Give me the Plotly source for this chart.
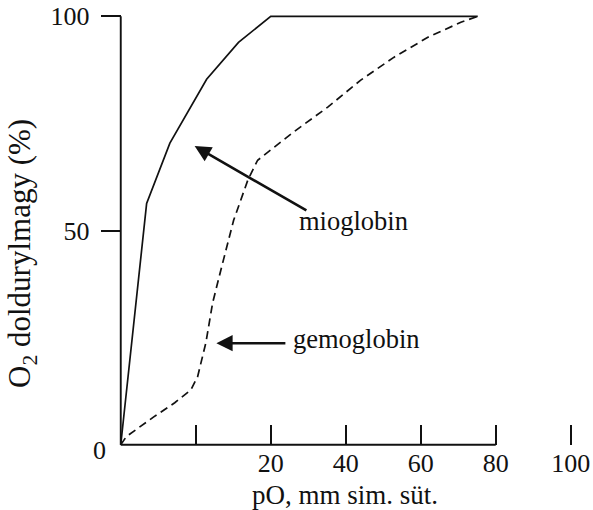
import plotly.graph_objects as go

# ---- data ----
mio_x = [-20, -13.1, -6.9, 2.9, 11.4, 20, 75.2]
mio_y = [0, 56.3, 70.4, 85.3, 93.9, 100, 100]

gem_x = [-20, -18.5, -11.2, -5.6, -1.3, 0.5, 2.7, 4.5, 6.7, 10.1, 13.9, 16.5, 20, 26.1, 35.2, 44, 52.8, 61.9, 70.7, 75.2]
gem_y = [0, 1.9, 6.5, 9.8, 12.8, 15.9, 23.8, 33.1, 40.8, 52.4, 61.8, 66.4, 68.8, 73.0, 78.8, 85.1, 90.4, 95.1, 98.6, 100]

x_tickvals = [0, 20, 40, 60, 80, 100]
x_ticktext = ["", "20", "40", "60", "80", "100"]
y_tickvals = [50, 100]
y_ticktext = ["50", "100"]

x_title = "pO, mm sim. süt."
y_title = "O<sub>2</sub> doldurylmagy (%)"
labels = ["mioglobin", "gemoglobin"]

# ---- layout geometry ----
W, H = 593, 510
ML, MR, MT, MB = 117, 0, 12, 61
XMIN = -21
XMAX = XMIN + (W - ML - MR) / 3.75
YMIN, YMAX = -1, 101
FONT = "Liberation Serif"
INK = "#111"

fig = go.Figure()
fig.add_trace(go.Scatter(x=mio_x, y=mio_y, mode="lines",
                         line=dict(color=INK, width=1.7), hoverinfo="skip"))
fig.add_trace(go.Scatter(x=gem_x, y=gem_y, mode="lines",
                         line=dict(color=INK, width=1.7, dash="8px,5px"), hoverinfo="skip"))

# axis lines
fig.add_shape(type="line", xref="x", yref="y", x0=-20, y0=0, x1=80, y1=0,
              line=dict(color=INK, width=1.9))
fig.add_shape(type="line", xref="x", yref="y", x0=-20, y0=0, x1=-20, y1=100,
              line=dict(color=INK, width=1.9))

def px_to_paper_x(px):
    return (px - ML) / (W - ML - MR)

def px_to_paper_y(py):
    return (H - MB - py) / (H - MT - MB)

ann = []
ann.append(dict(x=-20, y=0, xref="x", yref="y", text="0", showarrow=False,
                xshift=-21, yshift=-6, font=dict(family=FONT, size=26, color=INK)))
ann.append(dict(x=px_to_paper_x(345), y=px_to_paper_y(495), xref="paper", yref="paper",
                text=x_title, showarrow=False, xanchor="center", yanchor="middle",
                font=dict(family=FONT, size=27, color=INK)))
ann.append(dict(x=px_to_paper_x(22), y=px_to_paper_y(254), xref="paper", yref="paper",
                text=y_title, showarrow=False, textangle=-90, xanchor="center", yanchor="middle",
                font=dict(family=FONT, size=31, color=INK)))
ann.append(dict(x=-0.3, y=69.7, ax=29.9, ay=54.5, xref="x", yref="y", axref="x", ayref="y",
                text="", showarrow=True, arrowhead=2, arrowsize=1.25, arrowwidth=2.6,
                arrowcolor=INK))
ann.append(dict(x=5.5, y=23.7, ax=24.3, ay=23.7, xref="x", yref="y", axref="x", ayref="y",
                text="", showarrow=True, arrowhead=2, arrowsize=1.25, arrowwidth=2.6,
                arrowcolor=INK))
ann.append(dict(x=27.1, y=52.3, xref="x", yref="y", text=labels[0], showarrow=False,
                xanchor="left", yanchor="middle", font=dict(family=FONT, size=26.5, color=INK)))
ann.append(dict(x=25.3, y=24.6, xref="x", yref="y", text=labels[1], showarrow=False,
                xanchor="left", yanchor="middle", font=dict(family=FONT, size=26.5, color=INK)))

fig.update_layout(
    width=W, height=H,
    margin=dict(l=ML, r=MR, t=MT, b=MB),
    paper_bgcolor="white", plot_bgcolor="white",
    showlegend=False,
    annotations=ann,
    xaxis=dict(range=[XMIN, XMAX], showgrid=False, zeroline=False, showline=False,
               anchor="free", position=(0 - YMIN) / (YMAX - YMIN),
               tickvals=x_tickvals, ticktext=x_ticktext,
               ticks="inside", ticklen=20, tickwidth=1.7, tickcolor=INK,
               tickfont=dict(family=FONT, size=26, color=INK)),
    yaxis=dict(range=[YMIN, YMAX], showgrid=False, zeroline=False, showline=False,
               anchor="free", position=(-20 - XMIN) / (XMAX - XMIN),
               tickvals=y_tickvals, ticktext=y_ticktext,
               ticks="outside", ticklen=20, tickwidth=1.7, tickcolor=INK,
               ticklabelstandoff=6,
               tickfont=dict(family=FONT, size=26, color=INK)),
)

fig.write_html("out.html", config={"displayModeBar": False},
               post_script="document.body.style.margin='0';document.body.style.overflow='hidden';")
